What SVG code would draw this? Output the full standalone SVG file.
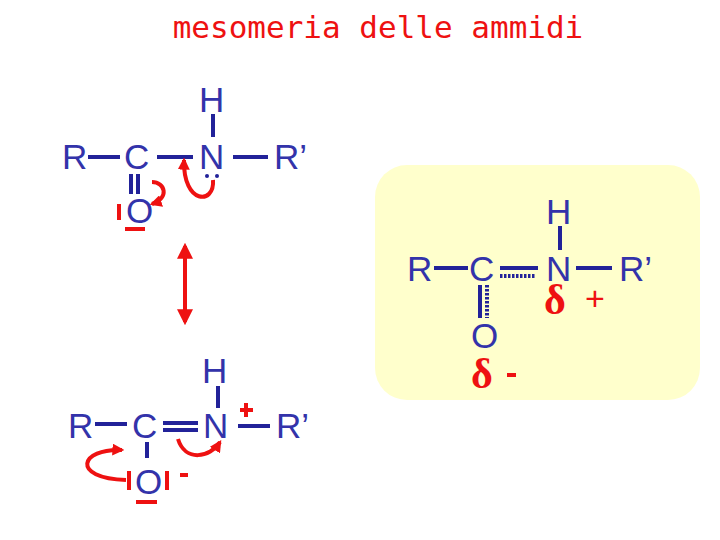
<svg xmlns="http://www.w3.org/2000/svg" width="720" height="540" viewBox="0 0 720 540">
<defs>
<style>
.a{font-family:"Liberation Sans",Arial,sans-serif;font-size:35px;fill:#3333aa}
.b{stroke:#222299;stroke-width:4;fill:none}
.d{stroke:#222299;stroke-width:4;fill:none;stroke-dasharray:2.5,1.5}
.r{stroke:#ee1111;stroke-width:4;fill:none}
.rt{font-family:"Liberation Sans",Arial,sans-serif;fill:#ee1111}
.dl{font-family:"Liberation Serif","Times New Roman",serif;font-weight:bold;font-size:42px;fill:#ee1111}
</style>
<marker id="ar" viewBox="0 0 10 10" refX="8" refY="5" markerWidth="3" markerHeight="3" orient="auto"><path d="M0,0L10,5L0,10z" fill="#ee1111"/></marker>
<marker id="ds" viewBox="0 0 10 10" refX="8" refY="5" markerWidth="4" markerHeight="4" orient="auto-start-reverse"><path d="M0,0L10,5L0,10z" fill="#ee1111"/></marker>
</defs>
<text x="378" y="38" text-anchor="middle" style="font-family:'DejaVu Sans Mono',monospace;font-size:31px;fill:#ee1111">mesomeria delle ammidi</text>

<g id="s1">
<text class="a" x="62" y="169">R</text><text class="a" x="124" y="169">C</text><text class="a" x="199" y="169">N</text><text class="a" x="274" y="169">R’</text>
<text class="a" x="199" y="112">H</text><text class="a" x="126" y="223">O</text>
<path class="b" d="M88,157H120M157,157H193M233,157H268M213,114V137M131,174V194M138,174V194"/>
<path class="r" d="M119,204V220M125,229H145"/>
<circle cx="207" cy="176" r="2" fill="#222299"/><circle cx="217" cy="176" r="2" fill="#222299"/>
<path class="r" marker-end="url(#ar)" d="M152,182C165,182 170,198 152,204"/>
<path class="r" marker-end="url(#ar)" d="M213,180C215,205 183,205 184,160"/>
</g>

<g id="arrow"><path class="r" marker-start="url(#ds)" marker-end="url(#ds)" d="M185,246V322"/></g>

<g id="s2">
<text class="a" x="68" y="438">R</text><text class="a" x="132" y="438">C</text><text class="a" x="203" y="438">N</text><text class="a" x="276" y="438">R’</text>
<text class="a" x="202" y="383">H</text><text class="a" x="135" y="494">O</text>
<path class="b" d="M95,424H127M163,423H198M163,430H198M238,426H270M218,386V408M147,442V458"/>
<path class="r" d="M129,471V490M167,471V490M136,502H157M180,475H188M240,410H253M246,403V417"/>
<path class="r" marker-end="url(#ar)" d="M126,480C70,478 80,448 122,450"/>
<path class="r" marker-end="url(#ar)" d="M178,439C185,462 210,458 220,442"/>
</g>

<g id="res">
<rect x="375" y="165" width="325" height="235" rx="32" fill="#ffffcc"/>
<text class="a" x="407" y="281">R</text><text class="a" x="469" y="281">C</text><text class="a" x="546" y="281">N</text><text class="a" x="619" y="281">R’</text>
<text class="a" x="546" y="224">H</text><text class="a" x="471" y="348">O</text>
<path class="b" d="M434,268H468M500,268H538M576,268H612M560,226V250M480,285V318"/>
<path class="d" d="M500,276H535M487,285V318"/>
<text class="dl" x="544" y="314">δ</text><text class="rt" x="585" y="310" font-size="34">+</text>
<text class="dl" x="471" y="388">δ</text><path class="r" d="M507,375H516"/>
</g>
</svg>
